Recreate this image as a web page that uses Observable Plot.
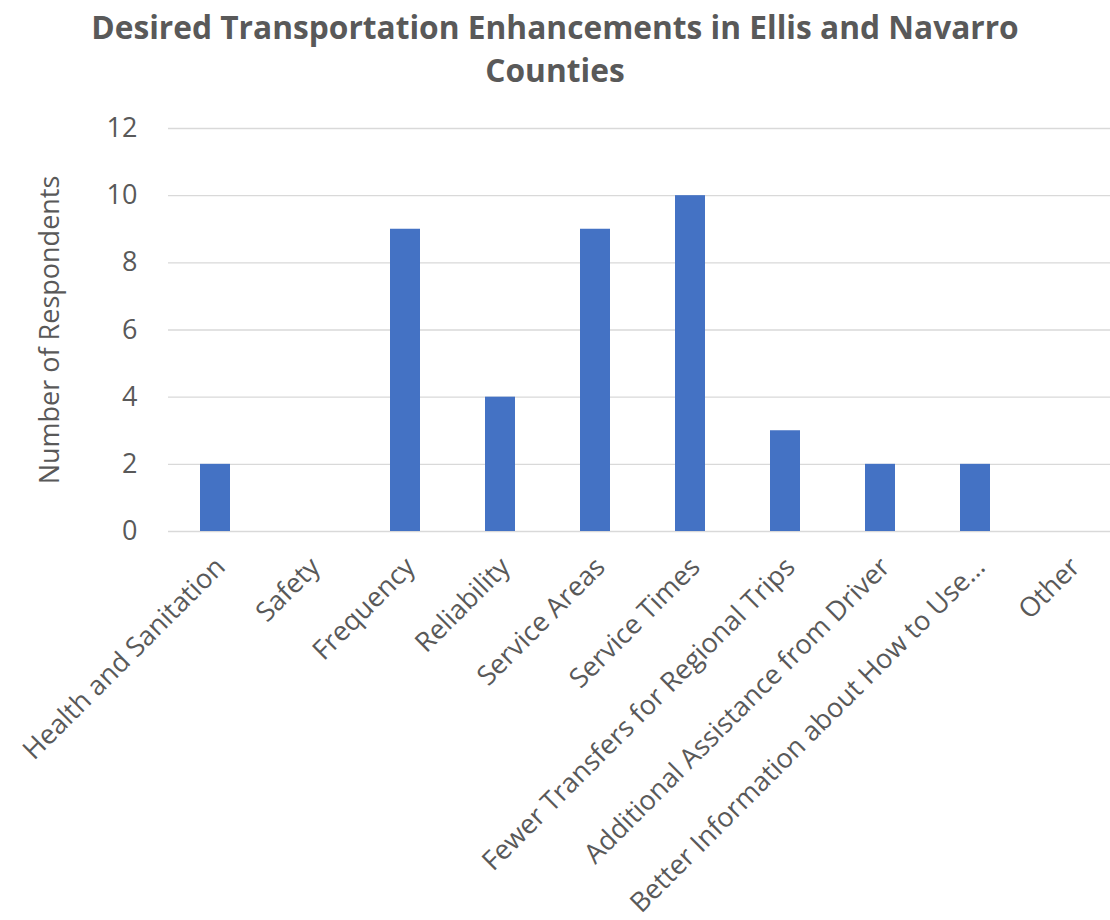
<!DOCTYPE html>
<html>
<head>
<meta charset="utf-8">
<script src="https://cdn.jsdelivr.net/npm/d3@7"></script>
<script src="https://cdn.jsdelivr.net/npm/@observablehq/plot@0.6"></script>
<style>
  html, body { margin: 0; padding: 0; background: #fff; overflow: hidden; width: 1110px; height: 920px; }
  #title { height: 100px; box-sizing: border-box; padding-top: 5px; text-align: center; font-family: "Open Sans", sans-serif; font-weight: bold; font-size: 31.7px; line-height: 43px; color: #595959; }
</style>
</head>
<body>
<div id="title">Desired Transportation Enhancements in Ellis and Navarro<br>Counties</div>
<div id="chart"></div>
<script>
const categories = [
  "Health and Sanitation",
  "Safety",
  "Frequency",
  "Reliability",
  "Service Areas",
  "Service Times",
  "Fewer Transfers for Regional Trips",
  "Additional Assistance from Driver",
  "Better Information about How to Use…",
  "Other"
];
const respondents = [2, 0, 9, 4, 9, 10, 3, 2, 2, 0];
const yTicks = [0, 2, 4, 6, 8, 10, 12];
const yLabel = "Number of Respondents";

const data = categories.map((c, i) => ({category: c, value: respondents[i]}));

const textColor = "#595959";
const chart = Plot.plot({
  width: 1110,
  height: 820,
  marginLeft: 168,
  marginRight: -8,
  marginTop: 28,
  marginBottom: 389,
  style: {fontFamily: "'Open Sans', sans-serif", fontSize: "27px", color: textColor, background: "#fff", overflow: "visible"},
  x: {domain: categories, paddingInner: 0.684, paddingOuter: 0.342, axis: null},
  y: {domain: [0, 12], axis: null},
  marks: [
    Plot.ruleY(yTicks, {stroke: "#d9d9d9", strokeWidth: 1.4}),
    Plot.barY(data, {x: "category", y: "value", fill: "#4472C4"}),
    Plot.axisY({ticks: yTicks, tickSize: 0, tickPadding: 31, fontSize: 27, fill: textColor, label: null}),
    Plot.text([yLabel], {frameAnchor: "left", textAnchor: "middle", dx: -118, rotate: -90, fontSize: 27, fill: textColor, text: d => d}),
    Plot.axisX({tickSize: 0, tickRotate: -45, tickPadding: 31, dx: 5, fontSize: 27, fill: textColor, label: null})
  ]
});
document.getElementById("chart").appendChild(chart);
</script>
</body>
</html>
